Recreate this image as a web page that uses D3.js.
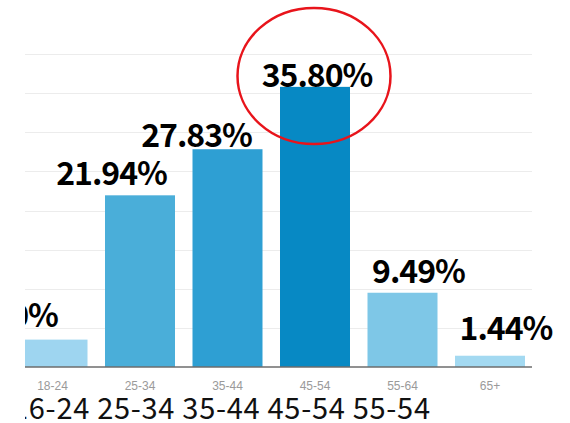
<!DOCTYPE html>
<meta charset="utf-8">
<style>
body { margin: 0; background: #fff; }
svg { display: block; }
.grid line { stroke: #ececec; stroke-width: 1px; shape-rendering: crispEdges; }
.axis--x text { font: 12px "Liberation Sans", Arial, sans-serif; fill: #9a9a9a; }
.axis--x path, .axis--x line { display: none; }
.baseline { stroke: #6d6d6d; stroke-width: 1.5px; }
.pct { font-family: "Noto Sans CJK JP", sans-serif; font-weight: 700; font-size: 32px; letter-spacing: -1px; fill: #000; text-anchor: middle; }
.typed { font-family: "Noto Sans CJK JP", sans-serif; font-weight: 400; font-size: 29px; fill: #111; }
.mark { fill: none; stroke: #e8141b; stroke-width: 2.5px; }
</style>
<body>
<div id="age-chart"></div>
<script src="https://d3js.org/d3.v7.min.js"></script>
<script>
// age brackets and their share of users (%)
var ages = ["18-24", "25-34", "35-44", "45-54", "55-64", "65+"];
var share = [3.50, 21.94, 27.83, 35.80, 9.49, 1.44];
var barColors = ["#9ed5f0", "#4aaed9", "#2e9fd3", "#0789c4", "#7ec7e7", "#a3d9f1"];
var gridTicks = [0, 5, 10, 15, 20, 25, 30, 35, 40];
// the hand-typed row under the axis (typo kept as is)
var typedRow = "16-24 25-34 35-44 45-54 55-54";
// the big labels were pasted on by hand, so they sit a little off each bar
var labelShift = [-41, -28.5, -31, 2, 16, 16];
var labelGap = [13, 10, 2, 0, 10, 16];

var W = 570, H = 423;
var svg = d3.select("#age-chart").append("svg")
    .attr("width", W)
    .attr("height", H);

svg.append("clipPath").attr("id", "crop")
    .append("rect").attr("x", 25).attr("y", 0).attr("width", W - 25).attr("height", H);

var g = svg.append("g").attr("clip-path", "url(#crop)");

var x = d3.scaleBand().domain(ages).range([8.75, 533.75])
    .paddingInner(0.2).paddingOuter(0.1);
var y = d3.scaleLinear().domain([0, 40]).range([367, 54]);

g.append("g").attr("class", "grid")
    .selectAll("line")
    .data(gridTicks.slice(1))
    .enter().append("line")
    .attr("x1", 25).attr("x2", 532)
    .attr("y1", function(d) { return Math.round(y(d)) + 0.5; })
    .attr("y2", function(d) { return Math.round(y(d)) + 0.5; });

g.selectAll(".bar")
    .data(share)
    .enter().append("rect")
    .attr("class", "bar")
    .attr("x", function(d, i) { return x(ages[i]); })
    .attr("y", function(d) { return y(d); })
    .attr("width", x.bandwidth())
    .attr("height", function(d) { return y(0) - y(d); })
    .style("fill", function(d, i) { return barColors[i]; });

g.append("line").attr("class", "baseline")
    .attr("x1", 25).attr("x2", 532)
    .attr("y1", y(0)).attr("y2", y(0));

g.append("g")
    .attr("class", "axis axis--x")
    .attr("transform", "translate(0," + (y(0) + 14) + ")")
    .call(d3.axisBottom(x).tickSize(0).tickPadding(0));

g.selectAll(".pct")
    .data(share)
    .enter().append("text")
    .attr("class", "pct")
    .attr("x", function(d, i) { return x(ages[i]) + x.bandwidth() / 2 + labelShift[i]; })
    .attr("y", function(d, i) { return y(d) - labelGap[i]; })
    .text(function(d) { return d.toFixed(2) + "%"; });

g.append("text")
    .attr("class", "typed")
    .attr("x", 12)
    .attr("y", 419)
    .attr("textLength", 418)
    .attr("lengthAdjust", "spacing")
    .text(typedRow);

// red ring drawn round the top bracket
var peak = d3.maxIndex(share);
svg.append("ellipse")
    .attr("class", "mark")
    .attr("cx", x(ages[peak]) + x.bandwidth() / 2 - 1)
    .attr("cy", 76)
    .attr("rx", 76.5)
    .attr("ry", 68);
</script>
</body>
